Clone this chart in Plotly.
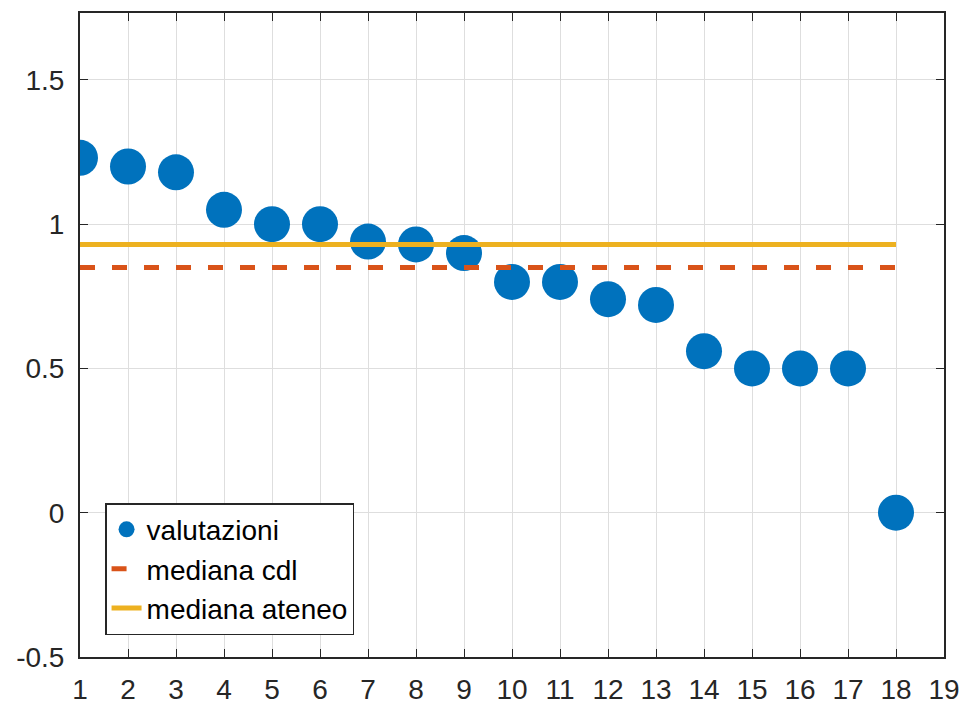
import plotly.graph_objects as go

x_vals = list(range(1, 19))
valutazioni = [1.23, 1.20, 1.18, 1.05, 1.00, 1.00, 0.94, 0.93, 0.90, 0.80, 0.80, 0.74, 0.72, 0.56, 0.50, 0.50, 0.50, 0.00]
mediana_cdl = 0.85
mediana_ateneo = 0.93
x_ticks = list(range(1, 20))
y_ticks = [-0.5, 0, 0.5, 1, 1.5]
y_tick_labels = ["-0.5", "0", "0.5", "1", "1.5"]

FONT = "Liberation Sans, Arial, Helvetica, sans-serif"

fig = go.Figure()
fig.add_trace(go.Scatter(
    x=x_vals, y=valutazioni, mode="markers", name="valutazioni",
    marker=dict(symbol="circle", size=36, color="#0072BD", line=dict(width=0)),
))
fig.add_trace(go.Scatter(
    x=[x_vals[0], x_vals[-1]], y=[mediana_cdl, mediana_cdl], mode="lines", name="mediana cdl",
    line=dict(color="#D95319", width=5, dash="15px,17px"),
))
fig.add_trace(go.Scatter(
    x=[x_vals[0], x_vals[-1]], y=[mediana_ateneo, mediana_ateneo], mode="lines", name="mediana ateneo",
    line=dict(color="#EDB120", width=5),
))

axis_common = dict(
    showgrid=True, gridcolor="#DEDEDE", gridwidth=1,
    showline=True, linecolor="#262626", linewidth=2, mirror="ticks",
    ticks="inside", ticklen=8, tickcolor="#262626", tickwidth=1,
    zeroline=False, automargin=False,
    tickfont=dict(family=FONT, size=28, color="#262626"),
)

fig.update_layout(
    width=964, height=706,
    margin=dict(l=80, r=20, t=13, b=49),
    paper_bgcolor="white", plot_bgcolor="white",
    xaxis=dict(range=[1, 19], tickvals=x_ticks, ticktext=[str(t) for t in x_ticks],
               ticklabelstandoff=6, **axis_common),
    yaxis=dict(range=[-0.5, 1.732], tickvals=y_ticks, ticktext=y_tick_labels,
               ticklabelstandoff=8, **axis_common),
    showlegend=True,
    legend=dict(
        x=0.029, y=0.239, xanchor="left", yanchor="top",
        bgcolor="white", bordercolor="#262626", borderwidth=1.5,
        font=dict(family=FONT, size=28, color="black"),
        itemsizing="trace", tracegroupgap=0,
    ),
)

fig.write_html("out.html", config={"displayModeBar": False},
               post_script="document.body.style.margin='0px';document.body.style.overflow='hidden';")
